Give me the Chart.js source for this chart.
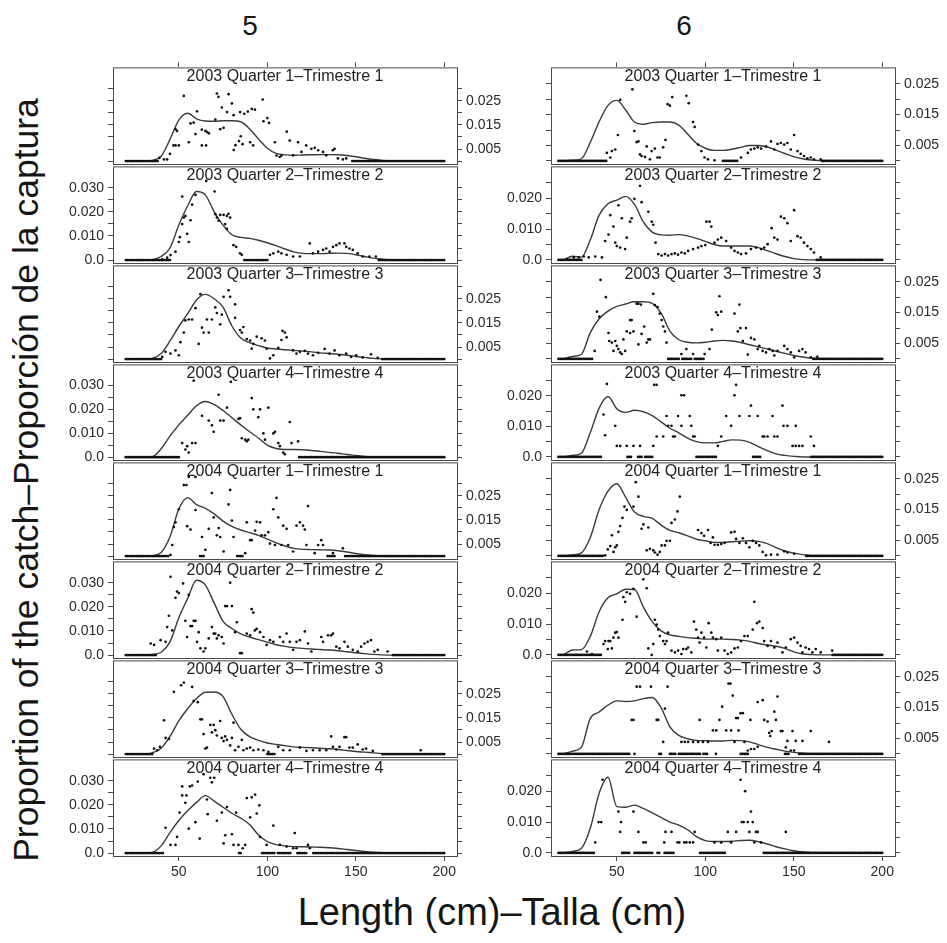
<!DOCTYPE html>
<html><head><meta charset="utf-8">
<script src="https://cdn.jsdelivr.net/npm/chart.js@4/dist/chart.umd.min.js"></script>
<style>
html,body{margin:0;padding:0;background:#fff;}
#wrap{position:relative;width:947px;height:943px;overflow:hidden;background:#fff;font-family:"Liberation Sans",Arial,sans-serif;color:#151515;}
canvas{position:absolute;}
.ptitle{position:absolute;font-size:16px;line-height:16px;color:#222;white-space:nowrap;transform:translateX(-50%);}
.ctitle{position:absolute;font-size:28px;line-height:28px;color:#151515;white-space:nowrap;transform:translateX(-50%);}
#xtitle{position:absolute;font-size:38px;line-height:38px;color:#151515;white-space:nowrap;transform:translateX(-50%);}
#ytitle{position:absolute;font-size:35.5px;line-height:36px;color:#151515;white-space:nowrap;width:900px;text-align:center;transform:rotate(-90deg);}
</style></head>
<body><div id="wrap"></div>
<script>
// ---------- categories / labels ----------
const columnTitles = ['5', '6'];
const panelTitles = ['2003 Quarter 1–Trimestre 1','2003 Quarter 2–Trimestre 2','2003 Quarter 3–Trimestre 3','2003 Quarter 4–Trimestre 4','2004 Quarter 1–Trimestre 1','2004 Quarter 2–Trimestre 2','2004 Quarter 3–Trimestre 3','2004 Quarter 4–Trimestre 4'];
const xTitle = 'Length (cm)–Talla (cm)';
const yTitle = 'Proportion of the catch–Proporción de la captura';
const xTickValues = [50, 100, 150, 200];
const yTickValues5 = [0, 5, 10, 15, 20, 25, 30];   // units of 0.001
const yTickValues6 = [0, 5, 10, 15, 20, 25];
const curveLengths = [20,25,30,35,40,45,50,55,60,65,70,75,80,85,90,95,100,105,110,115,120,125,130,135,140,145,150,155,160,165,170,175,180,185,190,195,200];

// ---------- smooth curves (proportion x 1000) at curveLengths ----------
const c5_03q1 = [0,0,0,0.3,2,9,17,19.8,17.5,16.6,16.5,16.7,16.7,16.3,13.3,9.2,5.3,3.2,2.6,2.4,2.5,2.6,2.7,2.7,2.6,2.3,1.8,1.2,0.7,0.3,0.1,0,0,0,0,0,0];
const c5_03q2 = [0,0,0,0.2,1.5,5,14.5,22.5,28.4,27,20,14.5,10.5,9.4,9,8.2,7.2,6,4.6,3.4,2.8,2.7,2.7,2.8,2.9,2.8,2.2,1.5,0.8,0.4,0.1,0,0,0,0,0,0];
const c5_03q3 = [0,0,0,0.3,2.3,7.5,13.5,18.8,24.5,26.8,25,21.5,13.7,8.7,6.8,5.6,4.6,4.2,3.9,3.6,3.3,3,2.6,2.3,2,1.6,1.1,0.7,0.3,0.1,0,0,0,0,0,0,0];
const c5_03q4 = [0,0,0,0.2,3.5,8.8,13.5,17.5,21.5,23.3,22,19.5,16.5,13.5,10.6,8,5,3.6,3.2,3.2,3.1,2.8,2.4,2,1.6,1.1,0.7,0.3,0.1,0,0,0,0,0,0,0,0];
const c5_04q1 = [0,0,0,0.2,1.5,8,19.5,24.2,21.3,19.8,17.5,14.5,12.3,10.8,9.7,8.6,7,5.5,4.2,3.2,2.8,2.7,2.6,2.5,2.2,1.7,1.1,0.6,0.3,0.1,0,0,0,0,0,0,0];
const c5_04q2 = [0,0,0.1,0.3,1.2,5.5,15.5,23.5,31,29,21.5,14,11,8.8,7.5,6.4,5.4,4.3,3.6,3.1,2.8,2.5,2.3,2.1,1.8,1.4,1,0.6,0.3,0.1,0,0,0,0,0,0,0];
const c5_04q3 = [0,0,0,0.5,2.4,7.3,13.8,18.8,23,25.6,25.7,23.8,16.5,10.3,7.2,5.7,4.6,4,3.5,3,2.8,2.6,2.4,2.2,1.9,1.5,1.1,0.8,0.5,0.2,0,0,0,0,0,0,0];
const c5_04q4 = [0,0,0,0.3,3,8.5,13.5,17.5,21,23.8,21.5,19,16.5,14.5,11.8,7.5,4.8,3.5,3,2.7,2.6,2.5,2.4,2.2,1.9,1.5,1.1,0.7,0.4,0.2,0,0,0,0,0,0,0];
const c6_03q1 = [0,0.2,0.7,6,12.7,18,19.6,16.5,12.6,11.9,12.4,12.6,12.6,11.6,8.7,5.7,4.1,3.4,3.4,3.8,4.4,5,5,4.5,3.5,2.4,1.4,0.7,0.3,0.1,0,0,0,0,0,0,0];
const c6_03q2 = [0,1.2,0.9,6.5,14.5,18.2,19.4,20.6,18,12.3,9,8.1,8,8.2,7.8,7,6,5,4.5,4.5,4.5,4.5,4,3,2,1.1,0.4,0.1,0,0,0,0,0,0,0,0,0];
const c6_03q3 = [0,0.8,1.5,8.5,13,15.5,17,17.8,18.5,18.5,18,14.8,9,6.2,5.4,5.2,5.4,5.8,6,5.8,5.3,4.6,3.9,3.2,2.5,1.8,1.1,0.6,0.2,0,0,0,0,0,0,0,0];
const c6_03q4 = [0,0.5,1.2,8,16,19.8,15.8,14.6,15.3,14.8,13.5,11.5,9.4,7.9,6.2,5,4.6,4.6,5.1,5.6,5.5,4.8,3.4,2.1,1,0.5,0.2,0,0,0,0,0,0,0,0,0,0];
const c6_04q1 = [0,0.3,1,6,15,21,23.4,19,14.2,12.8,12.2,10,8.3,7.5,6.5,5.4,4.9,4.4,4.4,4.6,4.8,4.9,4.7,4,2.7,1.6,0.9,0.4,0.1,0,0,0,0,0,0,0,0];
const c6_04q2 = [0.1,1.6,1.7,6,14,18.5,19.8,21.3,21.2,15.5,10.8,7.8,6.5,6,5.6,5.4,5.1,5.1,5.1,5,4.8,4.4,3.7,3.2,2.8,2.1,1,0.3,0.1,0,0,0,0,0,0,0,0];
const c6_04q3 = [0,0.9,2.2,11.5,13.6,15.8,17.2,17,17.2,17.9,18.3,15,8.8,6,4.9,4.4,4.3,4.2,4.2,4.4,4.3,3.9,3,2.1,1.5,0.9,0.5,0.2,0,0,0,0,0,0,0,0,0];
const c6_04q4 = [0,0.5,1.5,8,19.3,24.5,15,14.8,15.5,14.4,13,11.5,10,9,7.5,5.3,4,3.7,3.7,3.8,4,4.1,3.6,2.9,2,1.3,0.7,0.3,0.1,0,0,0,0,0,0,0,0];

// ---------- observed points: flat [length, proportion x 1000, ...] ----------
const p5_03q1 = [39,1.3,41.6,0.7,43.4,0.7,45,3,47,6.5,48.1,13.2,49,12.5,48.1,6.5,50,6.5,52.8,27,55.6,7.8,56.6,15.6,58.4,15.9,59.4,11.2,60.3,20.6,63,6.5,63,13,65.4,6.5,65,12.5,66,12,67,11.5,70.6,17.2,71.5,28,72.4,26.6,73.4,13.2,75.3,13.8,74.3,22.2,77.2,20.3,78.1,27.7,80,23.9,81,19,81,4.6,82,6.6,84,8.3,85,10.3,86,7,84.6,20.3,87,19.6,89,20.5,90.3,7.8,92,6.5,91.2,21.6,93,21.3,97.4,25.5,97.8,16.5,100,17.8,101,15.8,104.3,7.8,105.2,2.3,107,1.7,108,2.3,111,12.2,112.7,8.5,114.6,2.4,117.4,7.8,119.3,3.8,122,6.5,124.9,5.1,126.8,5.5,128.7,4.5,131.5,3.8,133.3,2.4,137,4.5,138,5.1,139.9,1.1,142.7,0.7,144.6,1.1];
const p5_03q2 = [40.6,0.3,43.4,1,45.3,2.1,48.1,3.5,50,7.5,50.6,9.5,51.9,14.9,52.8,17.6,51.9,26.3,53.7,18.3,54.7,10.9,55.6,7.5,56.6,16.5,57.5,23,59.4,27,65.5,32.8,70.2,28.4,70.6,19,71.5,17.6,72.5,16.3,73.4,18.7,75.3,18.7,77.2,18.3,78.1,19.2,79,17.6,76.2,14.9,77.2,12.9,80.9,6.2,82.4,5.5,84.6,2.8,85.6,2.2,101.5,2.2,103.4,2.8,106.2,3.5,108,2.8,110.9,2.2,114.6,1.5,118.4,1.5,124,6.9,125.8,2.8,128.7,3.5,131.5,4.2,133.3,4.8,135.2,3.5,137.1,5.5,139,6.2,140.8,6.9,143.6,6.9,144.6,5.5,146.4,4.8,148.3,4.2,151.1,2.8,153.9,1.5,157.7,1.5,161.4,1.5];
const p5_03q3 = [40.6,0.9,42.5,3,45.3,2.3,48.1,3.6,50,1.6,50.9,7,52.8,11,53.7,16,55.6,16.4,57.5,16.4,59.4,21.1,61.2,6.3,62.2,26.9,63.1,13,64,11,65.9,16.4,66.9,11,68.7,16.4,70.6,21.4,71.5,19.1,73.4,14.4,74.3,18.4,75.3,25.8,78.1,28.5,79,25.8,81.8,22.7,81.8,17.1,84.6,12,85.6,11,86.5,13.3,88.4,8.3,90.3,7.7,91.2,4.3,92.1,6.3,94,9.3,96.8,8.6,98.7,7.7,99.6,4.3,101.5,0.3,103.4,1.6,106.2,4.7,108,7.9,108.6,11.7,109.9,11,110.9,9,114.6,3.6,116.5,2.3,118.4,3,121.2,3.4,123,2.3,125.8,1.6,128.7,2.6,132.4,4.2,135.2,2.3,138,3.6,140.8,1.6,144.6,2.3,147.4,0.9,150.2,1.6,153.9,0.7,158.6,2,162.4,0.5];
const p5_03q4 = [51.9,5.9,53.7,3.2,54.7,4.6,55.6,1.9,57.5,5.9,58.4,32,59.4,5.9,63.1,17.3,66.9,15.3,68.7,13.3,69.7,10.6,72.5,26.1,73.4,15.3,75.3,15.3,77.2,20.7,79.4,31.5,83.7,16,84.6,16.3,85.6,7.9,87.5,7.3,88.4,6.6,89.3,7.3,91.2,24.7,92.1,20,94.9,16.7,95.9,20,97.8,9.9,98.7,7.3,100.6,20.7,103.4,9.9,104.3,10.6,106.2,5.9,107.1,4.6,109,1.9,109.9,1.2,112.7,14.7,113.7,5.9,117.4,6.6];
const p5_04q1 = [45.3,0.5,46.3,4.6,47.2,12,48.1,14,50,19.4,52.8,29.4,54.3,29.4,55.6,32.8,59.4,32.8,54.7,12.4,56.6,11,59.4,19.1,63.1,7.9,65,2.6,66.9,11.3,68.7,26.1,69.7,16,71.5,8.6,72.5,11.6,73.4,7.9,75.3,1.9,78.1,21.4,79,27.4,80,14.7,80.9,7.9,87.5,1.2,88.4,14,90.3,6.6,91.2,6.6,93.1,10.6,94,14.2,95.9,14,96.8,8.6,98.7,8.6,100.6,9.9,101.5,5.2,103.4,19.4,104.3,4.6,105.2,24.1,106.2,16,108,4.6,109,12.6,110.9,11.3,111.8,4.6,114.6,1.9,116.5,12.6,118.4,14,120.2,12.6,121.2,11,123,20.7,122.1,4.6,126.8,1.2,128.7,4.6,130.5,6.6,131.5,4.6,137.1,1.2,142.7,3.2];
const p5_04q2 = [34.1,4.8,36,4.2,39.7,6.2,42.5,5.5,43.4,11.6,44.4,16.3,45.3,32.4,46.3,10.2,48.1,23.7,49,26.3,50,25.7,52.4,29.7,53.7,14.2,54.7,7.5,55.6,25,56.6,12,57.5,12,58.4,14.2,59.4,14.2,60.3,5.5,61.2,9.5,62.2,2.8,64,1.5,65,2.8,66.9,6.9,68.7,11.6,69.7,8.9,70.6,8.9,71.5,6.9,72.5,8.2,74.3,7.5,75.3,4.8,76.2,20.3,77.2,20.3,79,30,80,20.3,81.8,9.5,82.8,13.6,84.6,0.8,85.6,0.8,88.4,8.9,90.3,8.2,91.2,19,92.1,17.6,93,10.2,94,10.9,95.9,9.5,97.8,7.5,99.6,4.2,101.5,6.2,103.4,5.5,107.1,7.5,109,5.5,110.9,8.9,112.7,5.5,114.6,2.2,116.5,5.5,118.4,6.2,121.2,9.8,123,4.8,124.9,1.5,130.5,7.5,131.5,5.5,134.3,8.2,136.1,8.2,137.1,8.9,139,3.5,140.8,2.8,143.6,5.5,145.5,3.5,148.3,2.2,151.1,1.5,153,3.5,154.9,4.8,156.7,5.5,158.6,6.2,160.5,1.5,162.4,2.2,168,1.5];
const p5_04q3 = [36,2.3,37.8,1.6,39.3,3,41.6,14,42.5,6.7,44.4,6.3,47.2,25.8,51.3,28.5,52.8,29.6,57.5,27.8,58.4,22,60.7,21.5,62.2,14.4,63.1,14.4,64,8.3,65,2.3,65.9,2.7,67.8,12.1,68.7,9,69.7,12.1,70.6,9.9,71.5,7.7,73.4,13.7,74.3,6.7,75.3,5.4,76.2,7.3,77.2,5.9,79,3.6,80,6.7,80.9,13,81.8,1.6,83.7,3,85.6,5.9,86.5,1.6,88.4,2.3,90.3,2.7,92.1,1.6,94.9,1.9,97.8,1.6,100.6,0.9,106.2,3,109,1.6,112.7,1.6,118.4,2.7,122.1,1.3,125.8,1.6,129.6,1.6,133.3,1.6,136.1,7.3,137.1,3,139,1.9,140.8,3,143.6,7,144.6,7,146.4,2.7,148.3,2.7,151.1,4,153.9,1.9,155.8,2.3,159.6,1.3,186.7,1.6];
const p5_04q4 = [42.5,10.5,45.3,3.4,48.1,3.4,49,6.7,50.4,16.8,51.9,23.9,51.9,27.6,54.3,23.9,53.7,20.8,55.6,10.1,56.2,27.6,57.5,28,59.4,12.8,60.7,29.6,61.8,6,64,32.7,65.9,22.2,66.3,16.1,67.8,31.2,68.7,29.3,70,31.2,71.5,13.4,74.3,16.8,75.3,4,76.2,7.4,77.2,19.1,80,7.8,80.9,3.4,82.4,16.8,83.7,3.4,86.1,2,87.5,3.4,88.4,22.8,90.3,14.8,91.2,23.1,93.1,24.2,94,16.4,95.5,19.8,95.9,6.7,99.6,3.4,103.4,11.4,107.1,3.4,110.9,2.7,115.5,8.3,114.6,2,116.5,2,123,3.4,124,2];
const p6_03q1 = [44.4,2.6,46.3,1.1,47.2,3.2,49.1,3.7,50.6,8.4,51.9,19.8,58.8,23.2,59.9,9.7,61.2,6.1,62.2,6.3,63.1,2.1,64,1.6,65.9,1.3,66.9,4.7,68.7,0.5,69.7,3.2,71.5,4,73,1.1,74.3,1.1,76.2,4.4,77.5,6.8,78.7,18.4,80,17.9,81.3,20.7,89.3,21.1,90.6,18.7,93.1,12.6,94,11,95.9,5.3,97.8,3.2,99.6,1.1,101.5,0.5,105.2,0.2,120.2,1.1,124,2.6,125.8,3.7,127.7,4,129.6,4.4,131.5,4,134.3,4.7,137.1,6.3,139,3.7,140.8,5.5,142.7,5.8,144.6,5.3,146.4,5.8,150.2,8.4,148.3,3.7,152.1,3.2,153.9,2.3,155.8,1.6,157.7,0.8,159.6,1.1,161.4,0.5,165.2,0.5];
const p6_03q2 = [21.9,0.3,25.7,0.8,28.5,0.8,31.3,1.1,34.1,0.8,37.8,1.1,41.6,0.8,43.4,6.1,45.3,8.2,46.3,14.5,48.1,10.8,49.1,5.6,50,4.5,50.9,17.7,51.9,4,52.8,13.5,54.7,3.5,55.6,7.2,57.5,12.4,58.4,13.5,59.9,19.8,63.1,24,64,18.7,67.8,15.6,69.7,12.4,70.6,11.4,71.9,5.6,73.4,1.9,75.3,1.4,77.2,1.9,79,1.4,80.9,1.9,82.8,2.1,84.6,1.7,86.5,2.4,88.4,2.1,90.3,2.9,93.1,3.5,95.9,4,97.8,4.5,100,4.8,100.6,12.4,102.4,12.4,103.4,10.8,105.2,5.6,107.1,6.6,109,7.2,111.8,6.1,114.6,4,116.5,2.9,118.4,2.4,120.2,1.9,123,2.1,125.8,3.5,128.7,4,131.5,3.5,133.3,4,135.2,5.1,137.5,10.3,139,7.2,140.8,6.6,142.7,14,144.6,13.5,146.4,11.9,150.2,16.1,148.3,6.1,152.1,7.7,153.9,7.2,155.8,5.6,157.7,4.5,159.6,3.5,161.4,2.4,165.2,0.8];
const p6_03q3 = [37.5,2.6,38.8,15.3,40.1,13.7,40.8,25.6,43.8,20,45.3,8.4,45.7,5.8,47.2,5.3,48.1,2.6,49.1,5.8,50,4.2,50.9,3.2,51.9,2.1,52.8,1.6,54.7,2.6,53.7,6.3,55.6,8.9,57.5,12.6,58.4,12.6,57.5,8.4,59.4,8.9,61.2,17.9,62.2,17.9,62.2,4.7,63.6,17.6,64,8.1,65.5,10.5,66.9,5.3,67.8,6.3,68.7,6.3,70.6,21.1,71.5,17.4,73,16.8,74.3,14.7,75.3,12.6,76.2,10.5,77.2,8.9,78.1,5.3,86.5,1.6,89.3,3.2,93.1,1.6,99.6,1.6,102.4,3.2,103.7,9.5,106.2,15.1,107.1,14.2,108,20.3,109,15.3,116.5,14.7,118.4,8.9,119.3,17.6,119.8,10,121.2,5.8,123,10,124,1.4,125.8,6.8,127.7,6.3,129.6,3.2,130.5,4.2,132.4,2.6,134.3,2.1,136.2,3.2,138.1,2.6,139,1.1,140.8,2.6,144.6,4.2,146.4,3.2,148.3,2.1,150.2,0.5,153,2.6,154.9,3.2,156.7,2.1,159.6,0.5,163.3,0.7];
const p6_03q4 = [42.5,13.9,43.4,7.1,44.4,23.9,49.1,10.2,50,3.6,51.9,3.6,55.6,3.6,59.4,3.6,63.1,3.6,70.6,3.6,71.1,23.6,72.5,23.6,72.5,6.7,76.2,6.7,78.1,13.4,79,10.2,80.9,10.2,81.8,6.7,82.8,6.7,84.6,13.4,86.5,20.2,88,20.2,86.5,10.2,91.2,13.4,92.1,10.2,93.1,6.7,94,6.7,107.1,3.6,109,6.7,111.8,13.4,114.6,10.2,116.5,20.2,117.4,23.6,119.3,13.4,124.9,13.4,125.8,16.8,129.6,13.4,132.4,6.7,133.3,6.7,135.2,6.7,138,13.4,139,6.7,140.8,6.7,143.6,16.8,144.2,10.2,146.4,10.2,151.1,10.2,149.3,3.6,151.1,3.6,153,3.6,154.9,3.6,159.6,6.7,161.4,3.6];
const p6_04q1 = [43.4,0.2,44.9,2.1,46.3,3.2,47.2,6.7,48.1,1.3,49.1,2.8,50,3.4,50.9,7.8,51.9,9.7,53.2,12.3,54.3,16,55.6,14.9,59.4,16,60.7,23.9,62.2,19.2,64,8.8,65,10.2,66.9,1.8,67.8,9.2,68.7,2.3,70.6,1.8,71.5,1.1,73,0.4,74.3,1.3,75.3,3.4,77.2,3.4,78.1,4.9,80,4.9,80.9,10.7,82.8,11.8,84.3,14.4,85.6,19.2,95.9,8.4,97.8,7.4,99.3,6.5,101.5,8.4,103,4.2,104.3,6,105.2,3.6,107.1,3.6,109,3.9,110.9,4.2,114.6,7.6,116.5,7.8,117.4,5.5,119.3,4.2,121.2,5.7,123,4.2,124.9,2.8,126.8,4.9,128.7,4.2,130.5,3.4,132.4,1.3,134.3,0.2,137.1,0.4,140.8,0.4,144.6,1.5,146.4,1.1,150.2,0.7];
const p6_04q2 = [33.1,1.1,36,0.3,42.5,3.5,43.4,4.5,44.9,1.9,45.3,4.5,46.3,4.5,47.2,2.1,48.1,5.6,49.1,7.2,50,7.4,50.9,5.6,53.2,11.4,53.7,18.7,54.7,17.2,55.6,20.3,57.5,19.8,59.4,21.4,61.2,12.4,65,24.5,66.9,21.6,67.8,2.1,69.7,0,70.6,3.5,71.5,11.4,72.5,9.8,73.4,8.2,74.3,6.1,76.2,4.5,77.2,3.5,78.1,4.5,79,7.2,80.9,1.4,82.8,0.8,84.6,1.4,86.5,0.3,87.5,1.9,89.3,1.9,90.3,2.4,92.1,0.8,93.6,10.8,94.9,8.2,95.9,5.6,96.8,4,97.8,7.2,99.3,5.6,100.6,2.4,101.9,10.3,103.4,7.2,104.3,5.6,106.2,5.1,107.1,1.4,109,5.6,110.9,1.4,112.7,0.3,114.6,0.8,116.5,2.1,118.4,2.4,120.2,4.5,122.1,6.1,124,6.1,126.8,8.2,127.7,17.2,129.2,10.3,130.5,10.8,132.4,8.7,133.3,4.5,135.2,2.9,137.1,4.5,139,2.4,140.8,4,143.6,0.8,145.5,2.4,148.3,5.1,150.2,5.6,152.1,4,153.9,2.9,154.9,0.8,156.7,2.4,158.6,1.9,160.5,0.8,162.4,1.9,165.2,0.8,171.7,1.4];
const p6_04q3 = [58.4,11,59.4,11,61.2,21.8,63.1,21.8,69.3,21.8,72.5,11,73.4,11,76.2,3.9,77.2,14.7,78.7,21.8,86.5,3.9,88.4,3.9,90.3,3.9,93.1,3.9,95.9,3.9,96.8,11,98.7,3.9,101.5,3.9,104.3,7.6,106.2,7.6,108,11,109.5,15.3,111.8,7.6,113.1,22.8,114.2,22.8,114.6,7.6,115.5,18.9,116.5,3.9,117.4,11.6,118.4,11.6,118.8,7.6,119.9,13.2,121.2,13.2,122.1,3.9,124,1.1,125.5,11,125.8,1.6,127.7,1.6,129.6,16.8,129.6,2.3,132.4,17.4,133.3,11,135.2,10.5,136.1,6.8,136.7,5.8,137.5,7.4,139,13.7,139.9,11,140.8,18.6,142.7,7.4,143.6,7.4,145.5,2.1,146.4,4.2,148.3,1.1,149.3,7.4,150.2,1.1,151.1,4.2,154.9,4.2,159.6,7.4,169.9,3.9];
const p6_04q4 = [37.8,3.4,39.7,10,41.2,10,41.9,23.7,50.9,13.4,51.9,6.8,52.4,10,59.4,13.4,62.2,6.8,65,3.4,66.3,3.4,76.8,3.4,77.5,6.8,80.9,6.8,84.3,3.4,85.3,3.4,88.1,3.4,89.3,3.4,91.2,3.4,93.1,3.4,94,6.8,105.2,3.4,109,3.4,112.7,6.8,114.6,3.4,117.4,6.8,119.9,23.7,120.6,10,121.7,10,122.5,20,124,10,124.9,6.8,125.8,13.4,126.8,10,127.7,3.4,128.7,6.8,129.6,6.8,131.5,3.4,145.5,6.8];

// ---------- lengths (cm) where the observed proportion is zero: [from, to] every cm ----------
const z5_03q1 = [[20,38],[148,200]];
const z5_03q2 = [[20,45],[87,100],[163,200]];
const z5_03q3 = [[20,40],[165,200]];
const z5_03q4 = [[20,50],[118,200]];
const z5_04q1 = [[20,44],[62,64],[83,86],[134,138],[144,200]];
const z5_04q2 = [[20,37],[171,200]];
const z5_04q3 = [[20,35],[100,104],[165,200]];
const z5_04q4 = [[20,41],[84,85],[97,104],[106,113],[117,122],[126,200]];
const z6_03q1 = [[17,44],[110,118],[166,200]];
const z6_03q2 = [[17,30],[163,200]];
const z6_03q3 = [[17,36],[79,85],[87,92],[94,99],[161,200]];
const z6_03q4 = [[17,41],[56,58],[62,64],[66,70],[95,106],[127,131],[160,200]];
const z6_04q1 = [[17,42],[157,200]];
const z6_04q2 = [[17,41],[172,200]];
const z6_04q3 = [[17,57],[60,60],[74,75],[80,83],[85,97],[99,101],[106,106],[120,124],[145,147],[153,200]];
const z6_04q4 = [[17,37],[53,57],[60,70],[73,74],[77,82],[97,111],[133,200]];

const curves = [[c5_03q1,c5_03q2,c5_03q3,c5_03q4,c5_04q1,c5_04q2,c5_04q3,c5_04q4],[c6_03q1,c6_03q2,c6_03q3,c6_03q4,c6_04q1,c6_04q2,c6_04q3,c6_04q4]];
const points = [[p5_03q1,p5_03q2,p5_03q3,p5_03q4,p5_04q1,p5_04q2,p5_04q3,p5_04q4],[p6_03q1,p6_03q2,p6_03q3,p6_03q4,p6_04q1,p6_04q2,p6_04q3,p6_04q4]];
const zeros = [[z5_03q1,z5_03q2,z5_03q3,z5_03q4,z5_04q1,z5_04q2,z5_04q3,z5_04q4],[z6_03q1,z6_03q2,z6_03q3,z6_03q4,z6_04q1,z6_04q2,z6_04q3,z6_04q4]];

// ---------- layout ----------
const FONT = '"Liberation Sans", Arial, sans-serif';
const AXIS = '#4a4a4a', TXT = '#2a2a2a', CURVE = '#3a3a3a', DOT = '#111111';
const colLeft = [113, 551], PW = 344;
const colTitleX = [250, 684];
const rowTop = [65,164,263,362,460,559,658,757,856];
const xMin = 12.8, xMax = 207.2;
const yRange = [[-1.2, 38.8], [-1.0, 30.3]];
const ML = 60, MR = 60, MT = 10, MB = 30;

const wrap = document.getElementById('wrap');
function addDiv(cls, text, style){ const d=document.createElement('div'); if(cls) d.className=cls; d.textContent=text; Object.assign(d.style, style); wrap.appendChild(d); return d; }

const framePlugin = { id:'frame', afterDraw(chart){ const a=chart.chartArea, c=chart.ctx; c.save(); c.strokeStyle=AXIS; c.lineWidth=1; c.strokeRect(a.left+0.5, a.top+0.5, a.right-a.left, a.bottom-a.top); c.restore(); } };
const fmt = v => v === 0 ? '0.0' : (v/1000).toFixed(3);

for (let col=0; col<2; col++){
  for (let row=0; row<8; row++){
    const h = rowTop[row+1]-rowTop[row];
    const cv = document.createElement('canvas');
    cv.width = ML+PW+MR; cv.height = MT+h+MB;
    cv.style.left = (colLeft[col]-ML)+'px'; cv.style.top = (rowTop[row]-MT)+'px';
    cv.style.width = cv.width+'px'; cv.style.height = cv.height+'px';
    wrap.appendChild(cv);
    const isTop = row===0, isBottom = row===7;
    const yt = col===0 ? yTickValues5 : yTickValues6;
    const leftLab = row%2===1 ? (col===0 ? [0,10,20,30] : [0,10,20]) : [];
    const rightLab = row%2===0 ? [5,15,25] : [];
    const tf = {family:FONT, size:14};
    const curveData = curveLengths.map((x,i)=>({x, y:curves[col][row][i]}));
    const pts = points[col][row]; const ptData = [];
    for (let i=0;i<pts.length;i+=2) ptData.push({x:pts[i], y:pts[i+1]});
    const zData = [];
    zeros[col][row].forEach(([a,b])=>{ for(let x=a;x<=b;x++) zData.push({x, y:0}); });
    const yAxis = (pos, labs) => ({
      type:'linear', position:pos, min:yRange[col][0], max:yRange[col][1],
      afterFit: s => { s.width = pos==='left' ? ML : MR; },
      afterBuildTicks: s => { s.ticks = yt.map(v=>({value:v})); },
      grid:{display:true, drawOnChartArea:false, drawTicks:true, tickLength:5, color:AXIS, lineWidth:1},
      border:{display:false},
      ticks:{display:true, autoSkip:false, padding:4, color:TXT, font:tf, callback: v => labs.includes(v) ? fmt(v) : ''}
    });
    const xAxis = (pos, show, labels) => ({
      type:'linear', position:pos, min:xMin, max:xMax,
      afterFit: s => { s.height = pos==='bottom' ? MB : MT; },
      afterBuildTicks: s => { s.ticks = xTickValues.map(v=>({value:v})); },
      grid:{display:show, drawOnChartArea:false, drawTicks:true, tickLength:5, color:AXIS, lineWidth:1},
      border:{display:false},
      ticks:{display:labels, autoSkip:false, maxRotation:0, padding:3, color:TXT, font:tf, callback: v => String(v)}
    });
    new Chart(cv, {
      type:'scatter',
      data:{datasets:[
        {data:zData, pointRadius:1.35, pointBorderWidth:0, pointBackgroundColor:DOT, showLine:false},
        {data:ptData, pointRadius:1.35, pointBorderWidth:0, pointBackgroundColor:DOT, showLine:false},
        {data:curveData, showLine:true, pointRadius:0, borderColor:CURVE, borderWidth:1.4, cubicInterpolationMode:'monotone', fill:false}
      ]},
      options:{
        responsive:false, animation:false, devicePixelRatio:1,
        layout:{padding:0},
        plugins:{legend:{display:false}, tooltip:{enabled:false}, title:{display:false}},
        scales:{ x:xAxis('bottom', isBottom, isBottom), xTop:xAxis('top', isTop, false), y:yAxis('left', leftLab), yRight:yAxis('right', rightLab) }
      },
      plugins:[framePlugin]
    });
    addDiv('ptitle', panelTitles[row], {left:(colLeft[col]+PW/2)+'px', top:(rowTop[row]+3)+'px'});
  }
  addDiv('ctitle', columnTitles[col], {left:colTitleX[col]+'px', top:'12px'});
}
const xt = addDiv(null, xTitle, {}); xt.id = 'xtitle'; xt.style.left='492px'; xt.style.top='893px';
const yt = addDiv(null, yTitle, {}); yt.id='ytitle'; yt.style.left=(26-450)+'px'; yt.style.top=(480-18)+'px';
</script>
</body></html>
